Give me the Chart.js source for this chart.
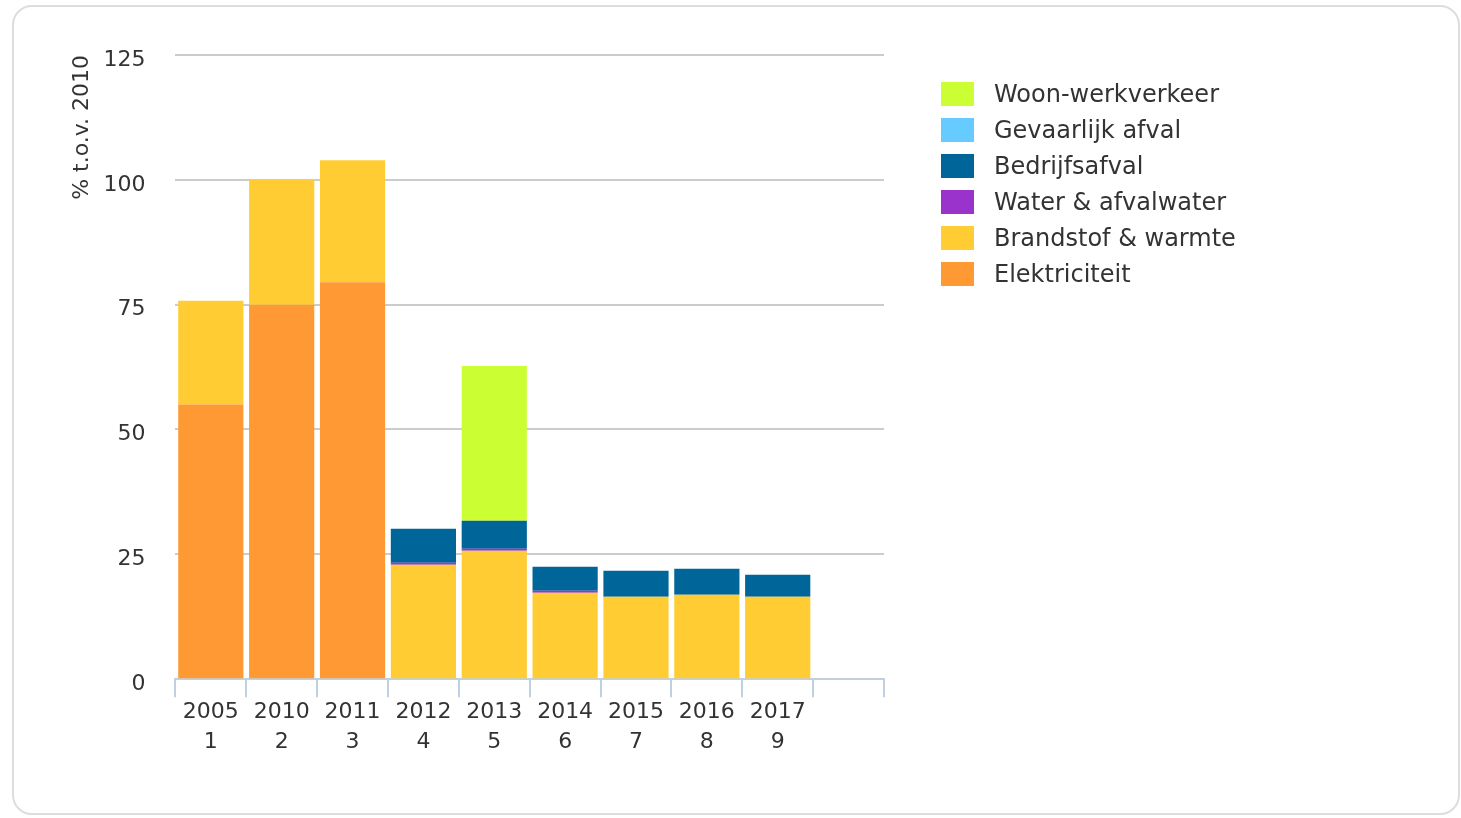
<!DOCTYPE html>
<html>
<head>
<meta charset="utf-8">
<script src="https://cdn.jsdelivr.net/npm/chart.js@4/dist/chart.umd.min.js"></script>
<style>
    html, body { margin: 0; padding: 0; background: #fff; }
    #box {
        position: absolute; left: 12px; top: 5px;
        width: 1444px; height: 806px;
        border: 2px solid #ddd; border-radius: 20px;
        background: #fff;
    }
    #weatherChart { position: absolute; left: 0; top: 0; }
    #legend {
        position: absolute; left: 927px; top: 69px;
        font-family: "DejaVu Sans", sans-serif; font-size: 24px; color: #333;
    }
    .item { display: flex; align-items: center; height: 36px; }
    .swatch { width: 33px; height: 24px; margin-right: 20px; }
</style>
</head>
<body>
<div id="box">
    <canvas id="weatherChart" width="1444" height="806"></canvas>
    <div id="legend"></div>
</div>
<script>
// Categorieën (jaar + volgnummer)
const jaren = ["2005", "2010", "2011", "2012", "2013", "2014", "2015", "2016", "2017", ""];
const nummers = ["1", "2", "3", "4", "5", "6", "7", "8", "9", ""];

// Waarden in % t.o.v. 2010
const elektriciteit = [55, 75, 79.5, 0, 0, 0, 0, 0, 0, null];
const brandstof = [20.8, 25, 24.4, 22.9, 25.7, 17.3, 16.5, 16.9, 16.5, null];
const water = [0, 0, 0, 0.4, 0.4, 0.4, 0, 0, 0, null];
const bedrijfsafval = [0, 0, 0, 6.8, 5.6, 4.8, 5.2, 5.2, 4.4, null];
const gevaarlijk = [0, 0, 0, 0, 0, 0, 0, 0, 0, null];
const woonwerk = [0, 0, 0, 0, 31, 0, 0, 0, 0, null];

const yTicks = [0, 25, 50, 75, 100, 125];

const labels = jaren.map((j, i) => [j, nummers[i]]);
const font = { family: "DejaVu Sans", size: 22 };

const ctx = document.getElementById("weatherChart").getContext("2d");
const chart = new Chart(ctx, {
    type: "bar",
    data: {
        labels: labels,
        datasets: [
            { label: "Elektriciteit", data: elektriciteit, backgroundColor: "#FF9933" },
            { label: "Brandstof & warmte", data: brandstof, backgroundColor: "#FFCC33" },
            { label: "Water & afvalwater", data: water, backgroundColor: "#9933CC" },
            { label: "Bedrijfsafval", data: bedrijfsafval, backgroundColor: "#006699" },
            { label: "Gevaarlijk afval", data: gevaarlijk, backgroundColor: "#66CCFF" },
            { label: "Woon-werkverkeer", data: woonwerk, backgroundColor: "#CCFF33" }
        ]
    },
    options: {
        responsive: false,
        animation: false,
        layout: { padding: { left: 31, right: 574, top: 48, bottom: 56 } },
        datasets: { bar: { barPercentage: 0.92, categoryPercentage: 1, borderWidth: 0 } },
        scales: {
            x: {
                stacked: true,
                grid: { drawOnChartArea: false, drawTicks: true, tickLength: 18, color: "#c0d0e0", lineWidth: 2 },
                border: { color: "#c0d0e0", width: 2 },
                ticks: { color: "#333", font: { family: "DejaVu Sans", size: 22, lineHeight: 1.36 }, padding: 0, maxRotation: 0, autoSkip: false }
            },
            y: {
                stacked: true,
                min: 0,
                max: 125,
                afterBuildTicks: (axis) => { axis.ticks = yTicks.map(v => ({ value: v })); },
                grid: { color: "#cccccc", lineWidth: 2, drawTicks: false },
                border: { display: false },
                ticks: { color: "#333", font: font, padding: 30, labelOffset: 5 },
                title: { display: true, text: "% t.o.v. 2010", align: "end", color: "#333", font: { family: "DejaVu Sans", size: 22 }, padding: { top: 24, bottom: -22 } }
            }
        },
        plugins: {
            legend: { display: false },
            tooltip: { enabled: false }
        }
    }
});

// Legenda (omgekeerde volgorde, zoals in het origineel)
const legend = document.getElementById("legend");
chart.data.datasets.slice().reverse().forEach(ds => {
    const row = document.createElement("div");
    row.className = "item";
    row.innerHTML = '<div class="swatch" style="background:' + ds.backgroundColor + '"></div><span>' + ds.label.replace(/&/g, "&amp;") + '</span>';
    legend.appendChild(row);
});
</script>
</body>
</html>
